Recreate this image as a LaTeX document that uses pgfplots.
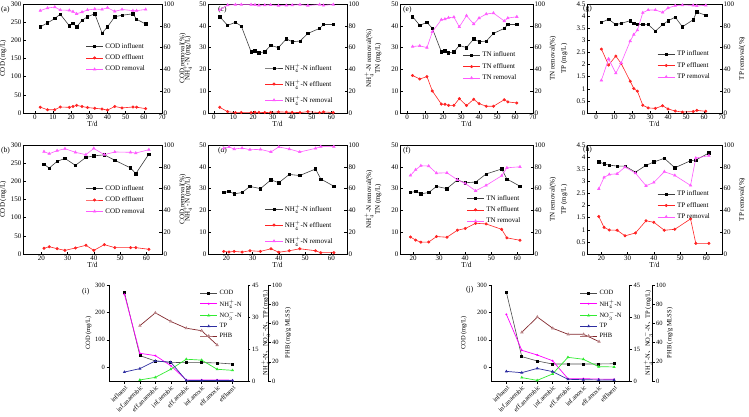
\documentclass[border=0pt]{standalone}
\usepackage{pgfplots}
\pgfplotsset{compat=1.18}
\usepackage{fontspec}
\setmainfont{Liberation Serif}
\newfontfamily\cjk{Noto Sans CJK SC}
\definecolor{effc}{RGB}{255,35,35}
\definecolor{remc}{RGB}{255,90,255}
\definecolor{nhc}{RGB}{255,0,255}
\definecolor{noc}{RGB}{50,235,50}
\definecolor{tpc}{RGB}{45,45,160}
\definecolor{phbc}{RGB}{130,40,45}
\pgfplotsset{
  tp/.style={scale only axis, anchor=south west, height=109pt, tick align=inside,
    major tick length=2.5pt, every tick/.style={black, line width=0.4pt},
    axis line style={line width=0.5pt},
    /pgf/number format/assume math mode=true,
    font=\fontsize{7}{8}\selectfont,
    yticklabel style={inner sep=1.5pt}, xticklabel style={inner sep=1.5pt},
    label style={font=\fontsize{7.5}{8.5}\selectfont},
    xlabel style={yshift=3pt}},
  llab/.style={every axis y label/.style={at={(axis description cs:#1,0.5)}, rotate=90, anchor=south}},
  rlab/.style={every axis y label/.style={at={(axis description cs:#1,0.5)}, rotate=90, anchor=north}},
  lax/.style={tp, xtick pos=bottom, ytick pos=left},
  rax/.style={tp, axis x line=none, axis y line*=right, yticklabel pos=right,
    ymin=0, ymax=100, ytick={0,20,...,100}, legend cell align=left,
    legend style={draw=none, fill=none, anchor=north west, inner sep=0pt,
      font=\fontsize{7}{8}\selectfont, row sep=1pt}},
  infl/.style={black!75, line width=0.6pt, mark=square*, mark size=1.2pt, mark options={black}},
  effl/.style={effc, line width=0.6pt, mark=*, mark size=1.2pt},
  remv/.style={remc, line width=0.6pt, mark=triangle*, mark size=1.4pt},
  bp/.style={scale only axis, anchor=south west, height=96pt, tick align=outside,
    major tick length=2.5pt, every tick/.style={black, line width=0.4pt},
    axis line style={line width=0.5pt},
    /pgf/number format/assume math mode=true,
    font=\fontsize{6.5}{7.5}\selectfont,
    yticklabel style={inner sep=1.5pt},
    label style={font=\fontsize{7}{8}\selectfont}},
  codst/.style={black!70, line width=0.6pt, mark=square*, mark size=1pt, mark options={black}},
  nhst/.style={nhc, line width=0.7pt, mark=*, mark size=0.6pt},
  nost/.style={noc, line width=0.7pt, mark=triangle*, mark size=1.1pt},
  tpst/.style={tpc, line width=0.7pt, mark=triangle*, mark size=1.1pt},
  phbst/.style={phbc, line width=0.7pt, mark=triangle*, mark size=1.3pt, mark options={fill=pink!60, draw=phbc!60}},
  bleg/.style={legend cell align=left, legend style={draw=none, fill=none, anchor=north west, inner sep=0pt,
      font=\fontsize{6.5}{7.5}\selectfont, row sep=0pt}},
}
\begin{document}
\begin{tikzpicture}
\path[use as bounding box] (0,0) rectangle (749pt,416pt);
\tikzset{pl/.style={font=\fontsize{7.5}{8.5}\selectfont, anchor=west, inner sep=0pt}}
\node[pl] at (1pt,406pt) {(a)};
\node[pl] at (218pt,406pt) {(c)};
\node[pl] at (403pt,406pt) {(e)};
\node[pl] at (583pt,407pt) {(g)};
\node[pl] at (1pt,265pt) {(b)};
\node[pl] at (218pt,265pt) {(d)};
\node[pl] at (403pt,265pt) {(f)};
\node[pl] at (583pt,266pt) {(h)};
\node[pl] at (82pt,124pt) {(i)};
\node[pl] at (466pt,126pt) {(j)};

% ---------- (a) ----------
\begin{axis}[lax, llab=-0.095, at={(23pt,303pt)}, width=139pt, xmin=-6.5, xmax=70, ymin=0, ymax=300,
  xtick={0,10,...,70}, ytick={0,50,...,300}, xlabel={T/d}, ylabel={COD (mg/L)}]
\addplot[infl] coordinates {(3,237)(7,248)(11,260)(14,272)(19,240)(21,247)(23,237)(26,255)(29,265)(33,273)(37,220)(40,237)(44,265)(48,269)(54,273)(56,258)(61,245)};
\addplot[effl] coordinates {(3,16)(7,9)(11,9)(14,16.5)(19,15.6)(21,18)(23,21)(26,18)(29,15)(33,13)(37,11)(40,8)(44,18)(48,14)(54,16.5)(56,16)(61,12)};
\end{axis}
\begin{axis}[rax, rlab=1.10, at={(23pt,303pt)}, width=139pt, xmin=-6.5, xmax=70, ylabel={COD removal(\%)},
  legend style={at={(0.45,0.66)}}]
\addlegendimage{infl}\addlegendentry{COD influent}
\addlegendimage{effl}\addlegendentry{COD effluent}
\addplot[remv] coordinates {(3,93.9)(7,96.3)(11,97.2)(14,94.5)(19,94.2)(21,93)(23,91)(26,92.6)(29,94.5)(33,95.4)(37,95)(40,96.6)(44,93.2)(48,95)(54,93.9)(56,93.9)(61,95)};
\addlegendentry{COD removal}
\end{axis}

% ---------- (c) ----------
\begin{axis}[lax, llab=-0.09, at={(208pt,303pt)}, width=139pt, xmin=-3, xmax=68, ymin=0, ymax=50,
  xtick={0,10,...,60}, ytick={0,10,...,50}, xlabel={T/d}, ylabel={NH$_4^+$-N (mg/L)}]
\addplot[infl] coordinates {(3,44.2)(7,40.2)(11,41.6)(14,39.9)(19,28.1)(21,28.5)(23,27.6)(26,28.1)(29,31)(33,30)(37,34)(40,32.7)(44,33)(48,36.5)(54,38.8)(56,40.6)(61,40.6)};
\addplot[effl] coordinates {(3,2.6)(7,0.6)(11,0.2)(14,0.2)(19,0.2)(21,0.3)(23,0.3)(26,0.2)(29,0.3)(33,0.5)(37,0.4)(40,0.3)(44,0.2)(48,0.6)(54,0.2)(56,0.5)(61,0.2)};
\end{axis}
\begin{axis}[rax, rlab=1.10, at={(208pt,303pt)}, width=139pt, xmin=-3, xmax=68, ylabel={NH$_4^+$-N removal(\%)},
  legend style={at={(0.41,0.47)}, row sep=4pt}]
\addlegendimage{infl}\addlegendentry{NH$_4^+$-N influent}
\addlegendimage{effl}\addlegendentry{NH$_4^+$-N effluent}
\addplot[remv] coordinates {(3,94.5)(7,99)(11,99.4)(14,99.5)(19,99.4)(21,99.2)(23,98.8)(26,99)(29,99.1)(33,98.6)(37,98.8)(40,99)(44,99.4)(48,98.6)(54,99.5)(56,98.8)(61,99.5)};
\addlegendentry{NH$_4^+$-N removal}
\end{axis}

% ---------- (e) ----------
\begin{axis}[lax, llab=-0.113, at={(400pt,303pt)}, width=133pt, xmin=-4, xmax=70, ymin=0, ymax=50,
  xtick={0,10,...,70}, ytick={0,10,...,50}, xlabel={T/d}, ylabel={TN (mg/L)}]
\addplot[infl] coordinates {(3,44.2)(7,40.2)(11,41.6)(14,38.8)(19,28.1)(21,28.5)(23,27.6)(26,28)(29,31)(33,30)(37,34)(40,32.7)(44,33)(48,36.5)(54,38.8)(56,40.6)(61,40.6)};
\addplot[effl] coordinates {(3,17.2)(7,15.6)(11,16.7)(14,10.1)(19,4.1)(21,4)(23,3.5)(26,3.5)(29,6.6)(33,3.4)(37,6.3)(40,4.3)(44,3.1)(48,3.1)(54,6.1)(56,5.1)(61,4.6)};
\end{axis}
\begin{axis}[rax, rlab=1.10, at={(400pt,303pt)}, width=133pt, xmin=-4, xmax=70, ylabel={TN removal(\%)},
  legend style={at={(0.47,0.58)}}]
\addlegendimage{infl}\addlegendentry{TN influent}
\addlegendimage{effl}\addlegendentry{TN effluent}
\addplot[remv] coordinates {(3,61)(7,61.6)(11,60)(14,74.5)(19,85.6)(21,86.2)(23,87.4)(26,88)(29,79)(33,89.3)(37,81.6)(40,87.1)(44,90.8)(48,91.7)(54,84.4)(56,87.1)(61,88.3)};
\addlegendentry{TN removal}
\end{axis}

% ---------- (g) ----------
\begin{axis}[lax, llab=-0.12, at={(587pt,303pt)}, width=135pt, xmin=-5, xmax=70, ymin=0, ymax=4.5,
  xtick={0,10,...,70}, ytick={0,0.5,...,4.5}, xlabel={T/d}, ylabel={TP (mg/L)}]
\addplot[infl] coordinates {(3,3.74)(7,3.87)(11,3.65)(14,3.7)(19,3.81)(21,3.7)(23,3.66)(26,3.65)(29,3.65)(33,3.38)(37,3.65)(40,3.8)(44,3.96)(48,3.56)(54,3.85)(56,4.17)(61,4.03)};
\addplot[effl] coordinates {(3,2.64)(7,1.98)(11,2.35)(14,2.04)(19,1.31)(21,1.01)(23,0.9)(26,0.32)(29,0.21)(33,0.19)(37,0.3)(40,0.17)(44,0.08)(48,0.04)(54,0.06)(56,0.11)(61,0.07)};
\end{axis}
\begin{axis}[rax, rlab=1.10, at={(587pt,303pt)}, width=135pt, xmin=-5, xmax=70, ylabel={TP removal(\%)},
  legend style={at={(0.52,0.59)}}]
\addlegendimage{infl}\addlegendentry{TP influent}
\addlegendimage{effl}\addlegendentry{TP effluent}
\addplot[remv] coordinates {(3,30)(7,49.7)(11,36.5)(14,46)(19,66)(21,72)(23,76)(26,92)(29,94.5)(33,94.5)(37,92.3)(40,96.3)(44,98.5)(48,99)(54,98.8)(56,98.2)(61,98.8)};
\addlegendentry{TP removal}
\end{axis}

% ---------- (b) ----------
\begin{axis}[lax, llab=-0.095, at={(23pt,162pt)}, width=139pt, xmin=13, xmax=66, ymin=0, ymax=300,
  xtick={20,30,...,60}, ytick={0,50,...,300}, xlabel={T/d}, ylabel={COD (mg/L)}]
\addplot[infl] coordinates {(21,247)(23,236.5)(26,255)(29,263)(33,244)(37,266)(40,270)(44,273)(48,258)(54,237)(56,221)(61,275)};
\addplot[effl] coordinates {(21,15.6)(23,20)(26,14.7)(29,10)(33,16.6)(37,24)(40,10)(44,25.8)(48,17.5)(54,17.5)(56,17.5)(61,13)};
\end{axis}
\begin{axis}[rax, rlab=1.10, at={(23pt,162pt)}, width=139pt, xmin=13, xmax=66, ylabel={COD removal(\%)},
  legend style={at={(0.45,0.65)}}]
\addlegendimage{infl}\addlegendentry{COD influent}
\addlegendimage{effl}\addlegendentry{COD effluent}
\addplot[remv] coordinates {(21,93.9)(23,92)(26,94.8)(29,96.6)(33,93.3)(37,91.1)(40,96.9)(44,91.1)(48,93.6)(54,93.3)(56,92.6)(61,95.7)};
\addlegendentry{COD removal}
\end{axis}

% ---------- (d) ----------
\begin{axis}[lax, llab=-0.09, at={(208pt,162pt)}, width=139pt, xmin=13, xmax=66, ymin=0, ymax=50,
  xtick={20,30,...,60}, ytick={0,10,...,50}, xlabel={T/d}, ylabel={NH$_4^+$-N (mg/L)}]
\addplot[infl] coordinates {(19,28.2)(21,28.7)(23,27.6)(26,28.2)(29,31)(33,30)(37,34)(40,32.7)(44,36.5)(48,36)(54,39)(56,34.4)(61,31.1)};
\addplot[effl] coordinates {(19,1.2)(21,0.9)(23,1.2)(26,0.9)(29,1.5)(33,1.2)(37,2.4)(40,0.8)(44,1.5)(48,2.4)(54,1.5)(56,0.6)(61,0.6)};
\end{axis}
\begin{axis}[rax, rlab=1.10, at={(208pt,162pt)}, width=139pt, xmin=13, xmax=66, ylabel={NH$_4^+$-N removal(\%)},
  legend style={at={(0.41,0.47)}, row sep=4pt}]
\addlegendimage{infl}\addlegendentry{NH$_4^+$-N influent}
\addlegendimage{effl}\addlegendentry{NH$_4^+$-N effluent}
\addplot[remv] coordinates {(19,96.9)(21,98.2)(23,96.3)(26,97.2)(29,95.7)(33,96)(37,93.6)(40,98.2)(44,96.3)(48,93.6)(54,96.9)(56,98.5)(61,98.5)};
\addlegendentry{NH$_4^+$-N removal}
\end{axis}

% ---------- (f) ----------
\begin{axis}[lax, llab=-0.113, at={(400pt,162pt)}, width=133pt, xmin=15, xmax=66, ymin=0, ymax=50,
  xtick={20,30,...,60}, ytick={0,10,...,50}, xlabel={T/d}, ylabel={TN (mg/L)}]
\addplot[infl] coordinates {(19,28.2)(21,28.7)(23,27.6)(26,28.2)(29,31)(33,30)(37,34)(40,32.7)(44,33)(48,36.7)(54,39)(56,34.4)(61,31.1)};
\addplot[effl] coordinates {(19,7.8)(21,6.4)(23,5.4)(26,5.5)(29,8)(33,7.7)(37,10.9)(40,11.7)(44,14.1)(48,13.8)(54,11.3)(56,7.4)(61,6.3)};
\end{axis}
\begin{axis}[rax, rlab=1.10, at={(400pt,162pt)}, width=133pt, xmin=15, xmax=66, ylabel={TN removal(\%)},
  legend style={at={(0.5,0.56)}}]
\addlegendimage{infl}\addlegendentry{TN influent}
\addlegendimage{effl}\addlegendentry{TN effluent}
\addplot[remv] coordinates {(19,72.1)(21,77.3)(23,81)(26,80.7)(29,74.2)(33,74.5)(37,68.1)(40,64.7)(44,58)(48,62.9)(54,71.8)(56,79.1)(61,80)};
\addlegendentry{TN removal}
\end{axis}

% ---------- (h) ----------
\begin{axis}[lax, llab=-0.12, at={(587pt,162pt)}, width=135pt, xmin=14.5, xmax=66, ymin=0, ymax=4.5,
  xtick={20,30,...,60}, ytick={0,0.5,...,4.5}, xlabel={T/d}, ylabel={TP (mg/L)}]
\addplot[infl] coordinates {(19,3.81)(21,3.72)(23,3.67)(26,3.63)(29,3.63)(33,3.38)(37,3.66)(40,3.8)(44,3.95)(48,3.56)(54,3.85)(56,3.88)(61,4.17)};
\addplot[effl] coordinates {(19,1.55)(21,1.1)(23,0.99)(26,0.98)(29,0.75)(33,0.87)(37,1.37)(40,1.31)(44,0.98)(48,1.02)(54,1.45)(56,0.44)(61,0.44)};
\end{axis}
\begin{axis}[rax, rlab=1.10, at={(587pt,162pt)}, width=135pt, xmin=14.5, xmax=66, ylabel={TP removal(\%)},
  legend style={at={(0.52,0.6)}}]
\addlegendimage{infl}\addlegendentry{TP influent}
\addlegendimage{effl}\addlegendentry{TP effluent}
\addplot[remv] coordinates {(19,59.8)(21,70.2)(23,73)(26,73.6)(29,79.8)(33,74.2)(37,62.6)(40,65.6)(44,75.5)(48,72.1)(54,62.9)(56,88)(61,90.2)};
\addlegendentry{TP removal}
\end{axis}

% ---------- (i) ----------
\begin{axis}[bp, llab=-0.10, at={(109pt,35pt)}, width=139pt, xmin=-1, xmax=8, ymin=-50, ymax=300,
  axis x line*=bottom, axis y line*=left, ytick={0,100,200,300}, xtick={0,...,7},
  xticklabels={influent,inf.anaerobic,eff.anaerobic,inf.aerobic,eff.aerobic,inf.anoxic,eff.anoxic,effluent},
  xticklabel style={rotate=45, anchor=north east, inner sep=1pt}, ylabel={COD (mg/L)}]
\addplot[codst] coordinates {(0,273)(1,42.5)(2,23)(3,18)(4,17)(5,17)(6,16)(7,12)};
\end{axis}
\begin{axis}[bp, rlab=1.07, at={(109pt,35pt)}, width=139pt, xmin=-1, xmax=8, ymin=0, ymax=45,
  axis x line=none, axis y line*=right, yticklabel pos=right, ytick={0,15,30,45},
  ylabel={NH$_4^+$-N{\cjk 、}NO$_3^-$-N{\cjk 、}TP (mg/L)}]
\addplot[nhst] coordinates {(0,40.6)(1,13)(2,11.9)(3,7.2)(4,0.5)(5,0.5)(6,0.5)(7,0.4)};
\addplot[nost] coordinates {(1,0.5)(2,1.7)(3,5.5)(4,10.2)(5,9.8)(6,5.5)(7,5.0)};
\addplot[tpst] coordinates {(0,4.2)(1,5.8)(2,9.4)(3,8.8)(4,0.3)(5,0.2)(6,0.2)(7,0.2)};
\end{axis}
\begin{axis}[bp, bleg, rlab=1.085, at={(109pt,35pt)}, width=159pt, xmin=-1, xmax=9.295, ymin=0, ymax=100,
  axis x line=none, axis y line*=right, yticklabel pos=right, ytick={0,20,...,100},
  ylabel={PHB (mg/g MLSS)}, legend style={at={(0.57,0.97)}}]
\addlegendimage{codst}\addlegendentry{COD}
\addlegendimage{nhst}\addlegendentry{NH$_4^+$-N}
\addlegendimage{nost}\addlegendentry{NO$_3^-$-N}
\addlegendimage{tpst}\addlegendentry{TP}
\addplot[phbst] coordinates {(1,57.6)(2,71)(3,62)(4,55)(5,52.4)(6,37.5)};
\addlegendentry{PHB}
\end{axis}

% ---------- (j) ----------
\begin{axis}[bp, llab=-0.15, at={(491pt,35pt)}, width=138.5pt, xmin=-1, xmax=8, ymin=-50, ymax=300,
  axis x line*=bottom, axis y line*=left, ytick={0,100,200,300}, xtick={0,...,7},
  xticklabels={influent,inf.anaerobic,eff.anaerobic,inf.aerobic,eff.aerobic,inf.anoxic,eff.anoxic,effluent},
  xticklabel style={rotate=45, anchor=north east, inner sep=1pt}, ylabel={COD (mg/L)}]
\addplot[codst] coordinates {(0,273)(1,39)(2,23)(3,12)(4,12)(5,12)(6,12)(7,13)};
\end{axis}
\begin{axis}[bp, rlab=1.077, at={(491pt,35pt)}, width=138.5pt, xmin=-1, xmax=8, ymin=0, ymax=45,
  axis x line=none, axis y line*=right, yticklabel pos=right, ytick={0,15,30,45},
  ylabel={NH$_4^+$-N{\cjk 、}NO$_3^-$-N{\cjk 、}TP (mg/L)}]
\addplot[nhst] coordinates {(0,31.2)(1,14.4)(2,12.2)(3,9.5)(4,1.1)(5,1.1)(6,0.9)(7,0.8)};
\addplot[nost] coordinates {(1,1.6)(2,0.3)(3,3.3)(4,11.1)(5,10.2)(6,6.7)(7,6.6)};
\addplot[tpst] coordinates {(0,4.5)(1,3.9)(2,5.9)(3,4.4)(4,0.8)(5,0.6)(6,0.5)(7,0.5)};
\end{axis}
\begin{axis}[bp, bleg, rlab=1.07, at={(491pt,35pt)}, width=161pt, xmin=-1, xmax=9.43, ymin=0, ymax=100,
  axis x line=none, axis y line*=right, yticklabel pos=right, ytick={0,20,...,100},
  ylabel={PHB (mg/g MLSS)}, legend style={at={(0.55,0.97)}}]
\addlegendimage{codst}\addlegendentry{COD}
\addlegendimage{nhst}\addlegendentry{NH$_4^+$-N}
\addlegendimage{nost}\addlegendentry{NO$_3^-$-N}
\addlegendimage{tpst}\addlegendentry{TP}
\addplot[phbst] coordinates {(1,50.7)(2,66.7)(3,54.9)(4,48.6)(5,48.6)(6,41)};
\addlegendentry{PHB}
\end{axis}
\end{tikzpicture}
\end{document}
